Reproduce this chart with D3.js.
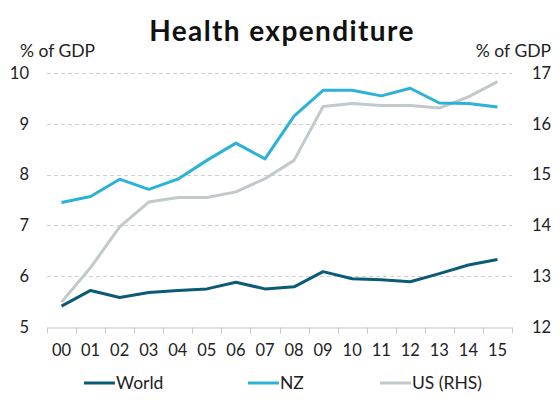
<!DOCTYPE html>
<html>
<head>
<meta charset="utf-8">
<script src="https://cdn.jsdelivr.net/npm/d3@7"></script>
<style>
  html, body { margin: 0; padding: 0; background: #fff; }
  svg { display: block; }
  text { font-family: Lato, "Open Sans", sans-serif; fill: #222; }
</style>
</head>
<body>
<svg id="chart" width="560" height="400"></svg>
<script>
const years = ["00","01","02","03","04","05","06","07","08","09","10","11","12","13","14","15"];
const world = [5.41,5.72,5.58,5.68,5.72,5.75,5.88,5.75,5.79,6.09,5.95,5.93,5.89,6.05,6.22,6.33];
const nz    = [7.45,7.57,7.91,7.71,7.91,8.28,8.62,8.31,9.15,9.66,9.66,9.55,9.70,9.41,9.40,9.33];
const us    = [12.49,13.17,13.97,14.46,14.55,14.55,14.66,14.92,15.28,16.34,16.40,16.36,16.36,16.31,16.53,16.83];
const leftTicks = [5,6,7,8,9,10];
const rightTicks = [12,13,14,15,16,17];
const seriesNames = ["World","NZ","US (RHS)"];
const colors = ["#0b5b78","#2cb1d9","#c2c9cd"];

const svg = d3.select("#chart");
const m = {left: 47, right: 48, top: 73, bottom: 73};
const W = 560, H = 400;
const x = d3.scaleBand().domain(years).range([m.left, W - m.right]);
const yL = d3.scaleLinear().domain([5,10]).range([H - m.bottom, m.top]);
const yR = d3.scaleLinear().domain([12,17]).range([H - m.bottom, m.top]);

// gridlines
svg.append("g").selectAll("line").data(leftTicks.slice(1)).join("line")
  .attr("x1", m.left).attr("x2", W - m.right)
  .attr("y1", d => Math.round(yL(d)) + 0.5).attr("y2", d => Math.round(yL(d)) + 0.5)
  .attr("stroke", "#d0d0d0").attr("stroke-width", 1).attr("stroke-dasharray", "4,3");

// bottom axis
const xAxis = svg.append("g").attr("transform", `translate(0,${Math.round(yL(5)) + 0.5})`)
  .call(d3.axisBottom(x).tickSize(0).tickPadding(17));
xAxis.select(".domain").attr("stroke", "#c8c8c8");
xAxis.selectAll("text").attr("font-size", 16.5).attr("fill", "#222").attr("font-family", "Lato");
// tick marks between categories
const bounds = years.map(d => x(d)).concat([x(years[years.length-1]) + x.bandwidth()]);
xAxis.append("g").selectAll("line").data(bounds).join("line")
  .attr("x1", d => Math.round(d) + 0.5).attr("x2", d => Math.round(d) + 0.5)
  .attr("y1", 0).attr("y2", 6).attr("stroke", "#c8c8c8");

// left axis
const lAx = svg.append("g").attr("transform", `translate(${m.left},0)`)
  .call(d3.axisLeft(yL).tickValues(leftTicks).tickSize(0).tickPadding(18).tickFormat(d3.format("d")));
lAx.select(".domain").remove();
lAx.selectAll("text").attr("font-size", 16.5).attr("fill", "#222").attr("font-family", "Lato");

// right axis
const rAx = svg.append("g").attr("transform", `translate(${W - m.right},0)`)
  .call(d3.axisRight(yR).tickValues(rightTicks).tickSize(0).tickPadding(20).tickFormat(d3.format("d")));
rAx.select(".domain").remove();
rAx.selectAll("text").attr("font-size", 16.5).attr("fill", "#222").attr("font-family", "Lato");

// lines
const cx = d => x(d) + x.bandwidth() / 2;
const lineL = d3.line().x((d, i) => cx(years[i])).y(d => yL(d));
const lineR = d3.line().x((d, i) => cx(years[i])).y(d => yR(d));
svg.append("path").datum(us).attr("d", lineR).attr("fill", "none")
  .attr("stroke", colors[2]).attr("stroke-width", 3).attr("stroke-linejoin", "round");
svg.append("path").datum(world).attr("d", lineL).attr("fill", "none")
  .attr("stroke", colors[0]).attr("stroke-width", 3).attr("stroke-linejoin", "round");
svg.append("path").datum(nz).attr("d", lineL).attr("fill", "none")
  .attr("stroke", colors[1]).attr("stroke-width", 3).attr("stroke-linejoin", "round");

// title
svg.append("text").attr("x", 282).attr("y", 41).attr("text-anchor", "middle")
  .attr("font-size", 28).attr("font-weight", "bold").attr("font-family", "Lato")
  .attr("letter-spacing", 1.4)
  .style("fill", "#111").text("Health expenditure");

// axis unit labels
svg.append("text").attr("x", 20).attr("y", 57).attr("font-size", 17.5).text("% of GDP");
svg.append("text").attr("x", 551).attr("y", 57).attr("text-anchor", "end").attr("font-size", 17.5).text("% of GDP");

// legend
const legX = [84, 248, 380];
const lg = svg.append("g");
seriesNames.forEach((n, i) => {
  lg.append("line").attr("x1", legX[i]).attr("x2", legX[i] + 31)
    .attr("y1", 383).attr("y2", 383).attr("stroke", colors[i]).attr("stroke-width", 3);
  lg.append("text").attr("x", legX[i] + 32).attr("y", 389).attr("font-size", 17.5).text(n);
});
</script>
</body>
</html>
